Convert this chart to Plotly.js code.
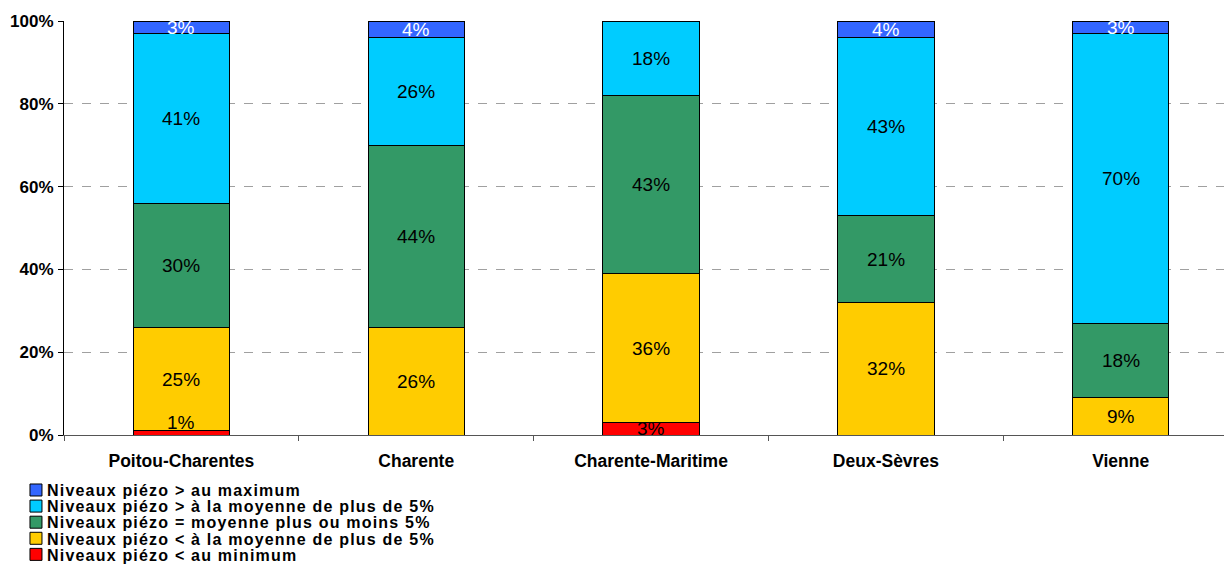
<!DOCTYPE html>
<html><head><meta charset="utf-8">
<script src="https://cdn.plot.ly/plotly-3.0.1.min.js"></script>
<style>html,body{margin:0;padding:0;background:#fff}#chart{width:1224px;height:567px}
.legendtext{letter-spacing:1.2px}</style>
</head><body><div id="chart"></div>
<script>
const categories = ["Poitou-Charentes", "Charente", "Charente-Maritime", "Deux-Sèvres", "Vienne"];
const seriesNames = [
  "Niveaux piézo < au minimum",
  "Niveaux piézo < à la moyenne de plus de 5%",
  "Niveaux piézo = moyenne plus ou moins 5%",
  "Niveaux piézo > à la moyenne de plus de 5%",
  "Niveaux piézo > au maximum"
];
const minimum = [1, 0, 3, 0, 0];
const belowAvg = [25, 26, 36, 32, 9];
const avg = [30, 44, 43, 21, 18];
const aboveAvg = [41, 26, 18, 43, 70];
const maximum = [3, 4, 0, 4, 3];
const colors = ["#FF0000", "#FFCC00", "#339966", "#00CCFF", "#3366FF"];
const labelColors = ["#000", "#000", "#000", "#000", "#fff"];
const yTickVals = [0, 20, 40, 60, 80, 100];
const yTickText = ["0%", "20%", "40%", "60%", "80%", "100%"];

const series = [minimum, belowAvg, avg, aboveAvg, maximum];
const traces = series.map((vals, i) => ({
  type: "bar", name: seriesNames[i], x: categories, y: vals,
  marker: {color: colors[i], line: {color: "#000", width: 1}},
  hoverinfo: "none"
}));

const annotations = [];
const cum = categories.map(() => 0);
series.forEach((vals, i) => {
  vals.forEach((v, j) => {
    if (v > 0) {
      annotations.push({
        x: categories[j], y: cum[j] + v / 2, text: v + "%", showarrow: false,
        yshift: (i === 0 && v < 2) ? 10 : 0,
        font: {family: "Liberation Sans, Arial", size: 19, color: labelColors[i]}
      });
    }
    cum[j] += v;
  });
});

const layout = {
  width: 1224, height: 567,
  margin: {l: 64, r: 0, t: 21, b: 132, autoexpand: false},
  paper_bgcolor: "#fff", plot_bgcolor: "#fff",
  barmode: "stack", bargap: 0.59,
  showlegend: true,
  legend: {
    x: -0.0414, xanchor: "left",
    y: -0.092, yanchor: "top", traceorder: "reversed",
    font: {family: "Liberation Sans, Arial", size: 16, color: "#000", weight: "bold"},
    itemwidth: 30, tracegroupgap: 0, bgcolor: "rgba(0,0,0,0)"
  },
  xaxis: {
    type: "category", range: [-0.5, 4.44], tickson: "boundaries",
    ticks: "outside", ticklen: 5, tickcolor: "#555",
    showline: true, linecolor: "#555", linewidth: 1,
    showgrid: false, fixedrange: true, ticklabelstandoff: 10,
    tickfont: {family: "Liberation Sans, Arial", size: 17.5, color: "#000", weight: "bold"}
  },
  yaxis: {
    range: [0, 100], tickvals: yTickVals, ticktext: yTickText,
    ticks: "outside", ticklen: 5, tickcolor: "#000",
    showline: true, linecolor: "#000", linewidth: 1,
    showgrid: true, gridcolor: "#A0A0A0", griddash: "dash", gridwidth: 1,
    zeroline: false, fixedrange: true, ticklabelstandoff: 1,
    tickfont: {family: "Liberation Sans, Arial", size: 17, color: "#000", weight: "bold"}
  },
  annotations: annotations
};
Plotly.newPlot("chart", traces, layout, {displayModeBar: false, staticPlot: true}).then(gd => {
  // tighten legend row spacing and symbol-to-text gap
  const items = gd.querySelectorAll(".legend .traces");
  let y0 = null;
  items.forEach((el, i) => {
    const m = /translate\(\s*([-\d.]+)[ ,]+([-\d.]+)\)/.exec(el.getAttribute("transform") || "");
    if (!m) return;
    const x = parseFloat(m[1]), y = parseFloat(m[2]);
    if (y0 === null) y0 = y;
    el.setAttribute("transform", "translate(" + x + "," + (y0 + i * 16.1) + ")");
    const t = el.querySelector(".legendtext");
    if (t) t.setAttribute("x", 31);
  });
});
</script></body></html>
